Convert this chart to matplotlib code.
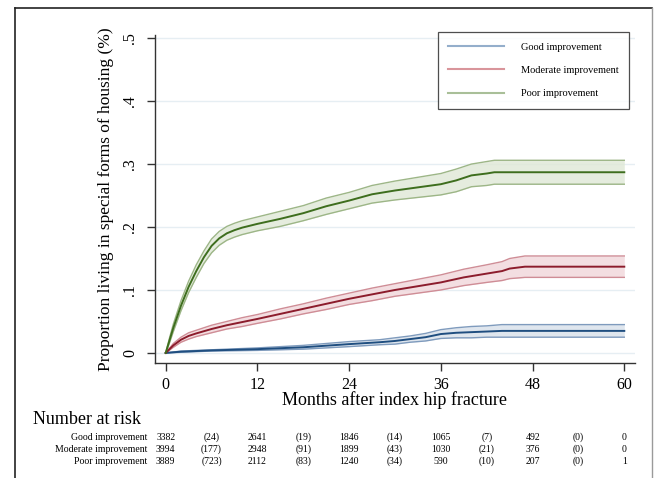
import matplotlib
matplotlib.use("Agg")
import matplotlib.pyplot as plt
import numpy as np
from matplotlib.lines import Line2D
from matplotlib import transforms

# ---------------- data ----------------
series_names = ["Good improvement", "Moderate improvement", "Poor improvement"]

good_months = [0, 2, 6, 12, 18, 24, 28, 30, 32, 34, 36, 38, 40, 42, 44, 60]
good_vals = [0, 0.002, 0.004, 0.006, 0.009, 0.014, 0.017, 0.019, 0.022, 0.025, 0.030, 0.032, 0.033, 0.034, 0.035, 0.035]
good_ci = [0, 0.001, 0.001, 0.002, 0.003, 0.004, 0.004, 0.005, 0.005, 0.006, 0.007, 0.008, 0.009, 0.009, 0.010, 0.010]

mod_months = [0, 1, 2, 3, 4, 6, 8, 10, 12, 15, 18, 21, 24, 27, 30, 33, 36, 39, 42, 44, 45, 47, 60]
mod_vals = [0, 0.012, 0.021, 0.027, 0.031, 0.038, 0.044, 0.049, 0.054, 0.062, 0.070, 0.078, 0.086, 0.093, 0.100, 0.106, 0.112, 0.120, 0.126, 0.130, 0.134, 0.137, 0.137]
mod_ci = [0, 0.003, 0.004, 0.005, 0.005, 0.006, 0.006, 0.007, 0.007, 0.008, 0.008, 0.009, 0.009, 0.010, 0.010, 0.011, 0.012, 0.013, 0.014, 0.015, 0.016, 0.017, 0.017]

poor_months = [0, 0.5, 1, 2, 3, 4, 5, 6, 7, 8, 9, 10, 12, 15, 18, 21, 24, 27, 30, 33, 36, 38, 40, 42, 43, 60]
poor_vals = [0, 0.020, 0.040, 0.075, 0.105, 0.130, 0.152, 0.170, 0.182, 0.190, 0.195, 0.199, 0.205, 0.213, 0.222, 0.233, 0.242, 0.252, 0.258, 0.263, 0.268, 0.274, 0.282, 0.285, 0.287, 0.287]
poor_ci = [0, 0.004, 0.006, 0.008, 0.009, 0.010, 0.010, 0.011, 0.011, 0.011, 0.011, 0.011, 0.011, 0.012, 0.012, 0.013, 0.013, 0.014, 0.015, 0.016, 0.017, 0.018, 0.018, 0.019, 0.019, 0.019]

x_ticks = [0, 12, 24, 36, 48, 60]
y_ticks = [0, 0.1, 0.2, 0.3, 0.4, 0.5]
y_ticklabels = ["0", ".1", ".2", ".3", ".4", ".5"]

risk_months = [0, 6, 12, 18, 24, 30, 36, 42, 48, 54, 60]
risk_good = ["3382", "(24)", "2641", "(19)", "1846", "(14)", "1065", "(7)", "492", "(0)", "0"]
risk_mod = ["3994", "(177)", "2948", "(91)", "1899", "(43)", "1030", "(21)", "376", "(0)", "0"]
risk_poor = ["3889", "(723)", "2112", "(83)", "1240", "(34)", "590", "(10)", "207", "(0)", "1"]

# ---------------- style ----------------
plt.rcParams["font.family"] = ["Liberation Serif", "DejaVu Serif"]
W, H = 655, 478
fig = plt.figure(figsize=(W / 100, H / 100), dpi=100)

def fx(px):
    return px / W

def fy(py):
    return 1 - py / H

ax = fig.add_axes([fx(155), fy(363), fx(635) - fx(155), fy(35) - fy(363)])

line_cols = ["#1f4e80", "#8c1c2c", "#3e6e1e"]
fill_cols = ["#d8e0ea", "#f0d6da", "#dfe8d6"]
edge_cols = ["#7f9bbd", "#cf8d96", "#9db687"]
leg_cols = ["#94aecb", "#d9959b", "#a9bf98"]

data = [(good_months, good_vals, good_ci),
        (mod_months, mod_vals, mod_ci),
        (poor_months, poor_vals, poor_ci)]

for i, (m, v, c) in enumerate(data):
    m = np.array(m); v = np.array(v); c = np.array(c)
    ax.fill_between(m, v - c, v + c, color=fill_cols[i], alpha=0.8, lw=0, zorder=2)
    ax.plot(m, v - c, color=edge_cols[i], lw=1.0, zorder=3)
    ax.plot(m, v + c, color=edge_cols[i], lw=1.0, zorder=3)
    ax.plot(m, v, color=line_cols[i], lw=1.4, zorder=4)

ax.set_xlim(-1.4, 61.4)
ax.set_ylim(-0.016, 0.505)
ax.set_xticks(x_ticks)
ax.set_xticklabels([str(t) for t in x_ticks], fontsize=11.5)
ax.set_yticks(y_ticks)
ax.set_yticklabels(y_ticklabels, fontsize=11.5, rotation=90, va="center")
ax.tick_params(axis="both", direction="out", length=6, width=1, color="#333333")
ax.tick_params(axis="x", pad=4)
ax.tick_params(axis="y", pad=6)
for s in ["top", "right"]:
    ax.spines[s].set_visible(False)
for s in ["left", "bottom"]:
    ax.spines[s].set_color("#333333")
    ax.spines[s].set_linewidth(1.0)
ax.grid(axis="y", color="#e6eef3", lw=1.0, zorder=0)
ax.set_axisbelow(True)

ax.set_xlabel("Months after index hip fracture", fontsize=13, labelpad=-1)
ax.set_ylabel("Proportion living in special forms of housing (%)", fontsize=12.5, labelpad=6)

handles = [Line2D([0], [0], color=leg_cols[i], lw=1.5) for i in range(3)]
leg = ax.legend(handles, series_names, loc="upper right",
                bbox_to_anchor=(fx(629), fy(32)), bbox_transform=fig.transFigure,
                fontsize=7.5, handlelength=5.4, handletextpad=1.6,
                labelspacing=1.35, borderpad=1.0, borderaxespad=0,
                fancybox=False, frameon=True)
leg.get_frame().set_edgecolor("#222222")
leg.get_frame().set_linewidth(0.9)

# number at risk table
fig.text(fx(33), fy(419), "Number at risk", fontsize=13, ha="left", va="center")
trans = transforms.blended_transform_factory(ax.transData, fig.transFigure)
rows = [risk_good, risk_mod, risk_poor]
row_y = [437, 449, 461]
for name, vals, yy in zip(series_names, rows, row_y):
    fig.text(fx(147), fy(yy), name, fontsize=7, ha="right", va="center")
    for mth, val in zip(risk_months, vals):
        fig.text(mth, fy(yy), val, fontsize=7, ha="center", va="center", transform=trans)

# outer border
fig.add_artist(Line2D([fx(15), fx(15)], [fy(8), 0], color="#222222", lw=1.2, transform=fig.transFigure))
fig.add_artist(Line2D([fx(15), fx(652)], [fy(8), fy(8)], color="#222222", lw=1.2, transform=fig.transFigure))
fig.add_artist(Line2D([fx(652), fx(652)], [fy(8), 0], color="#9a9a9a", lw=1.0, transform=fig.transFigure))

fig.savefig("out.png", dpi=100)
